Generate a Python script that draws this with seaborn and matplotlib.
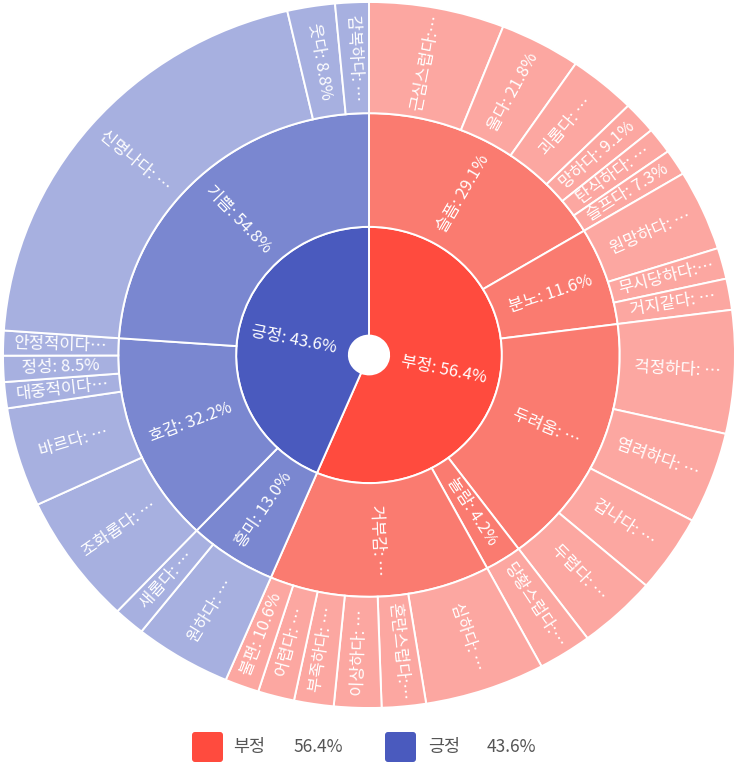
import numpy as np
import matplotlib
matplotlib.use('Agg')
import matplotlib.pyplot as plt
import seaborn as sns
from matplotlib.patches import FancyBboxPatch

sns.set_theme(style='white')
plt.rcParams['font.family'] = ['Noto Sans CJK KR', 'DejaVu Sans']

# ---------------- data ----------------
top_names = ['부정', '긍정']
top_pct = [56.4, 43.6]

mid_parent = ['부정', '부정', '부정', '부정', '부정', '긍정', '긍정', '긍정']
mid_names = ['슬픔', '분노', '두려움', '놀람', '거부감', '흥미', '호감', '기쁨']
mid_pct = [29.1, 11.6, 29.9, 4.2, 25.2, 13.0, 32.2, 54.8]

outer_parent = (['슬픔'] * 6 + ['분노'] * 3 + ['두려움'] * 4 + ['놀람'] +
                ['거부감'] * 6 + ['흥미'] * 2 + ['호감'] * 5 + ['기쁨'] * 3)
outer_names = ['근심스럽다', '울다', '괴롭다', '망하다', '탄식하다', '슬프다',
               '원망하다', '무시당하다', '거지같다',
               '걱정하다', '염려하다', '겁나다', '두렵다',
               '당황스럽다',
               '심하다', '혼란스럽다', '이상하다', '부족하다', '어렵다', '불편',
               '원하다', '새롭다',
               '조화롭다', '바르다', '대중적이다', '정성', '안정적이다',
               '신명나다', '웃다', '감복하다']
outer_pct = [36.4, 21.8, 18.1, 9.1, 7.3, 7.3,
             56.5, 21.7, 21.8,
             33.4, 24.8, 21.1, 20.7,
             100.0,
             37.4, 13.7, 14.7, 12.3, 11.3, 10.6,
             75.5, 24.5,
             42.5, 32.4, 8.5, 8.5, 8.1,
             85.0, 8.8, 6.2]

# labels that are cut off in the chart
short_labels = {
    '두려움': '두려움: …', '거부감': '거부감: …',
    '근심스럽다': '근심스럽다:…', '괴롭다': '괴롭다: …', '탄식하다': '탄식하다: …',
    '원망하다': '원망하다: …', '무시당하다': '무시당하다:…', '거지같다': '거지같다: …',
    '걱정하다': '걱정하다: …', '염려하다': '염려하다: …', '겁나다': '겁나다: …',
    '두렵다': '두렵다: …', '당황스럽다': '당황스럽다:…', '심하다': '심하다: …',
    '혼란스럽다': '혼란스럽다:…', '이상하다': '이상하다: …', '부족하다': '부족하다: …',
    '어렵다': '어렵다: …', '원하다': '원하다: …', '새롭다': '새롭다: …',
    '조화롭다': '조화롭다: …', '바르다': '바르다: …', '대중적이다': '대중적이다…',
    '안정적이다': '안정적이다…', '신명나다': '신명나다: …', '감복하다': '감복하다: …',
}

# ---------------- colors ----------------
base_colors = {'부정': '#FF4B3E', '긍정': '#4A5ABE'}
mid_colors = {'부정': '#FA7B70', '긍정': '#7A87D0'}
outer_colors = {'부정': '#FCA7A1', '긍정': '#A7B0E0'}

# absolute values
top_abs = dict(zip(top_names, top_pct))
mid_abs = [top_abs[p] * v / 100 for p, v in zip(mid_parent, mid_pct)]
mid_abs_d = dict(zip(mid_names, mid_abs))
mid_top = dict(zip(mid_names, mid_parent))
outer_abs = [mid_abs_d[p] * v / 100 for p, v in zip(outer_parent, outer_pct)]

fig = plt.figure(figsize=(7.38, 7.65), dpi=100)
ax = fig.add_axes([0, 0, 1, 1])

r_hole, r1, r2, r3 = 0.055, 0.363, 0.685, 1.0
wp = dict(edgecolor='white', linewidth=1.4)

w_in, _ = ax.pie(top_pct, radius=r1, startangle=90, counterclock=False,
                 colors=[base_colors[n] for n in top_names],
                 wedgeprops=dict(width=r1 - r_hole, **wp))
w_mid, _ = ax.pie(mid_abs, radius=r2, startangle=90, counterclock=False,
                  colors=[mid_colors[p] for p in mid_parent],
                  wedgeprops=dict(width=r2 - r1, **wp))
w_out, _ = ax.pie(outer_abs, radius=r3, startangle=90, counterclock=False,
                  colors=[outer_colors[mid_top[p]] for p in outer_parent],
                  wedgeprops=dict(width=r3 - r2, **wp))

sx, sy = 366.0, 353.0
ax.set_xlim(-369 / sx, (738 - 369) / sx)
ax.set_ylim(-(765 - 355) / sy, 355 / sy)
ax.set_aspect('auto')
ax.axis('off')


def put_labels(wedges, names, pcts, rin, rout, fs):
    for w, n, p in zip(wedges, names, pcts):
        mid = np.deg2rad((w.theta1 + w.theta2) / 2)
        rm = (rin + rout) / 2
        x, y = rm * np.cos(mid), rm * np.sin(mid)
        rot = np.degrees(np.arctan2(np.sin(mid) * sy, np.cos(mid) * sx))
        if np.cos(mid) < -1e-9:
            rot += 180
        rot = (rot + 180) % 360 - 180
        txt = short_labels.get(n, f'{n}: {p:.1f}%')
        ax.text(x, y, txt, rotation=rot, rotation_mode='anchor',
                ha='center', va='center', color='white', fontsize=fs)


put_labels(w_in, top_names, top_pct, r_hole, r1, 12)
put_labels(w_mid, mid_names, mid_pct, r1, r2, 12)
put_labels(w_out, outer_names, outer_pct, r2, r3, 12)

# ---------------- legend ----------------
W, H = 738.0, 765.0
leg = [(top_names[0], top_pct[0], 192, 233, 293),
       (top_names[1], top_pct[1], 385, 428, 487)]
for name, val, xs, xn, xv in leg:
    fig.patches.append(FancyBboxPatch((xs / W, 3 / H), 31 / W, 30 / H,
                                      boxstyle='round,pad=0,rounding_size=0.004',
                                      transform=fig.transFigure,
                                      facecolor=base_colors[name], edgecolor='none'))
    fig.text(xn / W, 18 / H, name, ha='left', va='center', fontsize=12.5, color='#555555')
    fig.text(xv / W, 18 / H, f'{val:.1f}%', ha='left', va='center', fontsize=12.5, color='#555555')

fig.savefig('out.png', dpi=100)
